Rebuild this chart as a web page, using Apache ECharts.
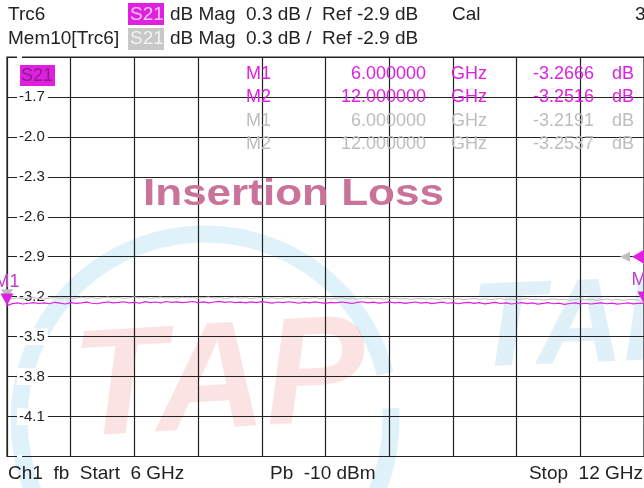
<!DOCTYPE html>
<html>
<head>
<meta charset="utf-8">
<script src="https://cdn.jsdelivr.net/npm/echarts@6/dist/echarts.min.js"></script>
<style>
  html, body { margin: 0; padding: 0; background: #fff; }
  #main { width: 644px; height: 488px; }
</style>
</head>
<body>
<div id="main"></div>
<script>
// 频率轴 (GHz)
const freqStart = 6;
const freqStop = 12;
const freqStep = 0.05;
// Y轴刻度标签
const yTickLabels = ['-1.7', '-2.0', '-2.3', '-2.6', '-2.9', '-3.2', '-3.5', '-3.8', '-4.1'];
// Trc6 S21 测量值 (dB)
const trc6 = [
  -3.2666, -3.252, -3.247, -3.255, -3.249, -3.244, -3.251, -3.246, -3.253, -3.242,
  -3.248, -3.255, -3.244, -3.250, -3.246, -3.241, -3.249, -3.253, -3.245, -3.240,
  -3.247, -3.243, -3.238, -3.246, -3.242, -3.249, -3.237, -3.244, -3.240, -3.247,
  -3.236, -3.243, -3.239, -3.245, -3.241, -3.236, -3.244, -3.239, -3.246, -3.240,
  -3.235, -3.243, -3.238, -3.245, -3.241, -3.247, -3.239, -3.244, -3.237, -3.242,
  -3.248, -3.240, -3.245, -3.238, -3.243, -3.249, -3.241, -3.246, -3.239, -3.244,
  -3.250, -3.242, -3.247, -3.240, -3.245, -3.251, -3.243, -3.238, -3.246, -3.241,
  -3.248, -3.244, -3.239, -3.247, -3.242, -3.250, -3.245, -3.240, -3.248, -3.243,
  -3.252, -3.246, -3.241, -3.249, -3.244, -3.253, -3.247, -3.242, -3.250, -3.245,
  -3.254, -3.248, -3.243, -3.251, -3.246, -3.255, -3.249, -3.244, -3.252, -3.247,
  -3.256, -3.250, -3.245, -3.253, -3.248, -3.257, -3.251, -3.246, -3.254, -3.249,
  -3.255, -3.250, -3.246, -3.253, -3.248, -3.256, -3.251, -3.247, -3.254, -3.249,
  -3.2516
];
// Mem10[Trc6] 存储迹线 (dB)
const mem10 = [
  -3.2191, -3.214, -3.209, -3.216, -3.211, -3.207, -3.213, -3.218, -3.210, -3.205,
  -3.212, -3.208, -3.215, -3.210, -3.204, -3.211, -3.207, -3.214, -3.209, -3.203,
  -3.210, -3.206, -3.213, -3.208, -3.202, -3.209, -3.205, -3.212, -3.207, -3.203,
  -3.210, -3.206, -3.211, -3.204, -3.209, -3.205, -3.212, -3.207, -3.203, -3.210,
  -3.206, -3.213, -3.208, -3.204, -3.211, -3.207, -3.214, -3.209, -3.205, -3.212,
  -3.208, -3.215, -3.210, -3.206, -3.213, -3.209, -3.216, -3.211, -3.207, -3.214,
  -3.210, -3.217, -3.212, -3.208, -3.215, -3.211, -3.218, -3.213, -3.209, -3.216,
  -3.212, -3.219, -3.214, -3.210, -3.217, -3.213, -3.220, -3.215, -3.211, -3.218,
  -3.214, -3.221, -3.216, -3.212, -3.219, -3.215, -3.222, -3.217, -3.213, -3.220,
  -3.216, -3.223, -3.218, -3.214, -3.221, -3.217, -3.224, -3.219, -3.215, -3.222,
  -3.218, -3.225, -3.220, -3.216, -3.223, -3.219, -3.226, -3.221, -3.217, -3.224,
  -3.220, -3.227, -3.222, -3.218, -3.225, -3.221, -3.228, -3.223, -3.219, -3.226,
  -3.2537
];
// 标记点
const markerNames = ['M1', 'M2'];
const markerFreq = [6, 12];
const markerTrc = [-3.2666, -3.2516];
const markerMem = [-3.2191, -3.2537];
const refLevel = -2.9;

const MAG = '#e020e0';
const GRAY = '#bdbdbd';
const FONT = '"Liberation Sans", Arial, sans-serif';

function toPairs(arr) {
  return arr.map(function (v, i) { return [freqStart + i * freqStep, v]; });
}

const chart = echarts.init(document.getElementById('main'));

// 文字元素
function txt(text, x, y, fill, size, align) {
  return {
    type: 'text', z: 50,
    style: {
      text: text, x: x, y: y, fill: fill,
      font: (size || 19) + 'px ' + FONT,
      textAlign: align || 'left', textVerticalAlign: 'middle', verticalAlign: 'middle'
    }
  };
}

const graphics = [
  // 水印 TAP
  { type: 'arc', z: -10, shape: { cx: 205, cy: 420, r: 186, startAngle: Math.PI * 0.62, endAngle: Math.PI * 1.92 },
    style: { stroke: 'rgba(150,210,235,0.3)', lineWidth: 17, fill: null } },
  { type: 'arc', z: -10, shape: { cx: 205, cy: 420, r: 186, startAngle: Math.PI * 1.98, endAngle: Math.PI * 2.45 },
    style: { stroke: 'rgba(150,210,235,0.3)', lineWidth: 17, fill: null } },
  { type: 'text', z: -9, rotation: 0.06,
    style: { text: 'TAP', x: 50, y: 322, fill: 'rgba(240,90,90,0.17)', font: 'italic bold 152px ' + FONT } },
  { type: 'text', z: -9, rotation: 0.04,
    style: { text: 'TAP', x: 458, y: 292, fill: 'rgba(130,195,230,0.25)', font: 'italic bold 120px ' + FONT } },
  // 标题
  { type: 'text', z: 40, x: 143, y: 176, scaleX: 1.19,
    style: { text: 'Insertion Loss', x: 0, y: 0, fill: '#c9739a', font: 'bold 37px ' + FONT } },
  // 头部信息
  txt('Trc6', 8, 15, '#222'),
  { type: 'rect', z: 49, shape: { x: 128, y: 3, width: 36, height: 22 }, style: { fill: MAG } },
  txt('S21', 130, 15, '#f6c8f6'),
  txt('dB Mag  0.3 dB /  Ref -2.9 dB', 170, 15, '#222'),
  txt('Cal', 452, 15, '#222'),
  txt('3', 635, 15, '#222'),
  txt('Mem10[Trc6]', 8, 39, '#222'),
  { type: 'rect', z: 49, shape: { x: 128, y: 28, width: 36, height: 22 }, style: { fill: '#c8c8c8' } },
  txt('S21', 130, 39, '#f2f2f2'),
  txt('dB Mag  0.3 dB /  Ref -2.9 dB', 170, 39, '#222'),
  // 迹线标签
  { type: 'rect', z: 49, shape: { x: 20, y: 65, width: 35, height: 21 }, style: { fill: MAG } },
  txt('S21', 21, 76, '#8a1f8a', 18),
  // 底部信息
  txt('Ch1  fb  Start  6 GHz', 8, 474, '#222'),
  txt('Pb  -10 dBm', 270, 474, '#222'),
  txt('Stop  12 GHz', 643, 474, '#222', 19, 'right')
];

// 标记表格
const tableRows = [
  [markerNames[0], markerFreq[0], markerTrc[0], MAG],
  [markerNames[1], markerFreq[1], markerTrc[1], MAG],
  [markerNames[0], markerFreq[0], markerMem[0], GRAY],
  [markerNames[1], markerFreq[1], markerMem[1], GRAY]
];
tableRows.forEach(function (r, i) {
  const y = 74 + i * 23.3;
  graphics.push(txt(r[0], 246, y, r[3], 18));
  graphics.push(txt(r[1].toFixed(6), 426, y, r[3], 18, 'right'));
  graphics.push(txt('GHz', 451, y, r[3], 18));
  graphics.push(txt(r[2].toFixed(4), 594, y, r[3], 18, 'right'));
  graphics.push(txt('dB', 612, y, r[3], 18));
});

const option = {
  backgroundColor: '#fff',
  animation: false,
  grid: { left: 7, right: -1, top: 57, bottom: 31.5, show: true, borderColor: '#222', borderWidth: 1.2 },
  xAxis: {
    type: 'value', min: freqStart, max: freqStop, interval: 0.6,
    axisLine: { show: false }, axisTick: { show: false }, axisLabel: { show: false },
    splitLine: { show: true, lineStyle: { color: '#222', width: 1.2 } }
  },
  yAxis: {
    type: 'value', min: -4.4, max: -1.4, interval: 0.3,
    axisLine: { show: false }, axisTick: { show: false },
    axisLabel: {
      inside: true, margin: 10, color: '#222', fontSize: 15, fontFamily: FONT,
      backgroundColor: '#fff', padding: [1, 3, 1, 2],
      formatter: function (v) {
        const s = v.toFixed(1);
        return yTickLabels.indexOf(s) >= 0 ? s : '';
      }
    },
    splitLine: { show: true, lineStyle: { color: '#222', width: 1.2 } }
  },
  graphic: graphics,
  series: [
    {
      name: 'Mem10[Trc6]', type: 'line', data: toPairs(mem10), showSymbol: false,
      lineStyle: { color: GRAY, width: 1 }, z: 3,
      markPoint: {
        symbol: 'triangle', symbolSize: [12, 10], symbolRotate: 180, symbolOffset: [0, -5],
        itemStyle: { color: GRAY }, label: { show: false },
        data: markerNames.map(function (n, i) { return { name: n, coord: [markerFreq[i], markerMem[i]] }; })
      }
    },
    {
      name: 'Trc6', type: 'line', data: toPairs(trc6), showSymbol: false,
      lineStyle: { color: MAG, width: 1.2 }, z: 4,
      markPoint: {
        symbol: 'triangle', symbolSize: [13, 12], symbolRotate: 180, symbolOffset: [0, -6],
        itemStyle: { color: MAG },
        label: { show: true, position: 'top', formatter: '{b}', color: '#c040c8', fontSize: 18, fontFamily: FONT, distance: 3 },
        data: markerNames.map(function (n, i) { return { name: n, coord: [markerFreq[i], markerTrc[i]] }; })
          .concat([
            { name: 'refGray', coord: [freqStop, refLevel], symbolRotate: 90, symbolSize: [10, 10], symbolOffset: [-19, 0],
              itemStyle: { color: GRAY }, label: { show: false } },
            { name: 'ref', coord: [freqStop, refLevel], symbolRotate: 90, symbolSize: [14, 12], symbolOffset: [-6, 0],
              itemStyle: { color: MAG }, label: { show: false } }
          ])
      }
    }
  ]
};
chart.setOption(option);
</script>
</body>
</html>
